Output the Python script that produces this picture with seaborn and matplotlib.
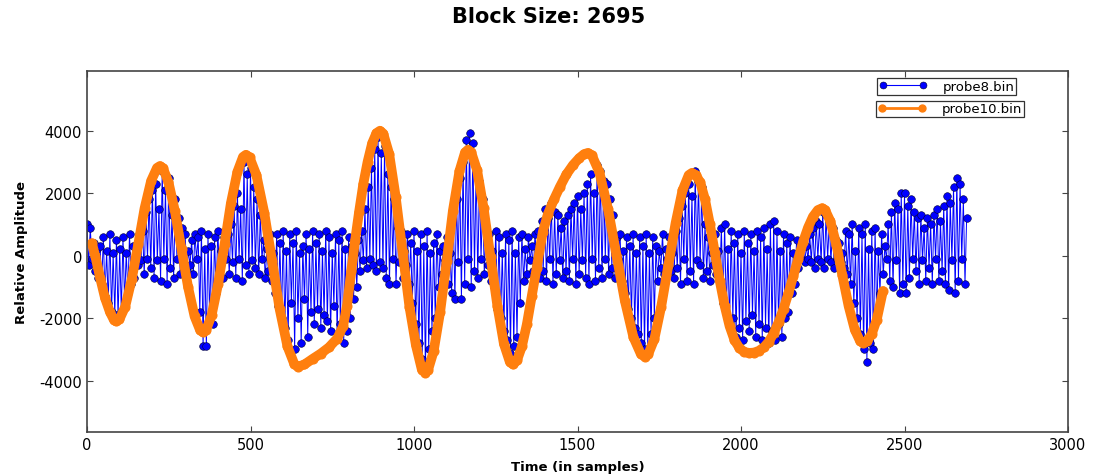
import numpy as np
import pandas as pd
import matplotlib
matplotlib.use("Agg")
import matplotlib.pyplot as plt
import seaborn as sns

block_size = 2695

# probe8.bin, one value read every 5 samples (0 .. 2690)
probe8_step = 5
probe8_vals = [
    1000, -300, 900, -100, 400, -500, 200, -700, 300, -900, 600, -1300, 150, -1500, 700, -1800, 100, -1900, 500, -2000,
    200, -1800, 600, -1500, 100, -1200, 700, -900, 300, -700, 150, -300, 700, -150, 800, -600, 1400, -100, 1800, -400,
    2100, -700, 2300, -150, 1500, -800, 2700, -100, 2100, -900, 2500, -400, 1300, -700, 1800, -100, 1200, -600, 900, -200,
    700, -500, 150, -300, 500, -600, 700, -100, 600, -1800, 800, -2900, 200, -2900, 700, -2000, 300, -2200, 600, -1200,
    800, -500, 150, -700, 600, -100, 700, -600, 1000, -200, 1600, -700, 2000, -100, 1500, -800, 3000, -300, 2600, -600,
    2800, -150, 2200, -400, 1800, -600, 1300, -100, 500, -700, 200, -500, 700, -800, 100, -1200, 700, -1600, 400, -2000,
    800, -2300, 150, -2700, 700, -1500, 400, -3000, 800, -2000, 100, -2800, 300, -1400, 700, -2600, 200, -1800, 800, -2200,
    400, -1700, 700, -2300, 150, -1900, 800, -2100, 600, -2400, 100, -1600, 700, -2600, 500, -2200, 800, -2800, 200, -2400,
    600, -2000, 300, -1400, 100, -1000, 500, -500, 800, -150, 1500, -400, 2200, -100, 2800, -300, 3400, -500, 3800, -200,
    3300, -400, 3500, -700, 2600, -900, 2200, -100, 1800, -900, 900, -200, 800, -700, 150, -300, 700, -900, 400, -1500,
    800, -2200, 150, -2800, 700, -3300, 300, -3760, 800, -3000, 100, -2400, 400, -2000, 700, -1000, 150, -600, 300, -150,
    600, -900, 100, -1200, 1500, -1400, 1800, -200, 2500, -1400, 3000, -900, 3700, -100, 3940, -1000, 3600, -500, 2800, -700,
    2400, -100, 1800, -600, 900, -300, 700, -800, 150, -1000, 800, -1700, 600, -2000, 100, -2400, 700, -2700, 500, -3100,
    800, -2900, 100, -2600, 600, -1500, 700, -800, 200, -600, 600, -150, 300, -500, 700, -100, 800, -700, 1100, -500,
    1500, -800, 1200, -100, 1700, -900, 1400, -600, 1300, -150, 900, -700, 1100, -500, 1300, -800, 1500, -100, 1700, -900,
    1900, -600, 1500, -150, 2000, -700, 2300, -900, 2600, -100, 2000, -800, 2900, -400, 2700, -700, 2400, -100, 2300, -600,
    1800, -400, 1300, -700, 600, -100, 700, -800, 150, -1200, 600, -1700, 300, -2000, 700, -2300, 100, -2500, 600, -2800,
    300, -3000, 700, -3100, 100, -2500, 600, -2000, 300, -800, 150, -400, 700, -600, 200, -100, 600, -500, 100, -700,
    800, -400, 1200, -900, 1600, -100, 2000, -800, 2300, -500, 1900, -900, 2700, -150, 2400, -300, 2200, -700, 1000, -500,
    600, -800, 100, -300, 700, -600, 150, -800, 900, -1500, 1000, -1800, 200, -2200, 800, -2000, 400, -2600, 700, -2300,
    100, -2700, 800, -2100, 400, -2400, 700, -1900, 150, -2600, 800, -2200, 600, -2700, 900, -2300, 200, -2800, 1000, -2400,
    1100, -2700, 800, -2200, 150, -2600, 700, -2000, 400, -1800, 600, -1200, 100, -900, 500, -400, 200, -100, 400, -200,
    300, -100, 700, -200, 900, -400, 1100, -100, 1000, -200, 1400, -400, 1300, -100, 1100, -200, 900, -400, 500, -100,
    400, -200, 100, -400, 800, -600, 700, -900, 1000, -1500, 150, -2000, 900, -2500, 700, -3000, 1000, -3400, 200, -2800,
    800, -3000, 900, -2000, 150, -1200, 700, -600, 300, -100, 1000, -800, 1400, -1000, 1700, -150, 1500, -1200, 2000, -900,
    2000, -1200, 1600, -700, 1800, -100, 1400, -500, 1200, -900, 1300, -150, 900, -800, 1200, -400, 1000, -900, 1300, -100,
    1500, -800, 1100, -500, 1600, -900, 1900, -1100, 1700, -150, 2200, -1200, 2500, -800, 2300, -100, 1800, -900, 1200,
]

# probe10.bin (sample index, value)
probe10_t = [
    15, 25, 40, 55, 70, 82, 90, 99, 117, 137, 157, 176, 196, 214,
    223, 232, 249, 269, 289, 309, 329, 346,
    355, 364, 381, 401, 421, 440, 460, 477,
    486, 497, 518, 542, 566, 589, 613, 634,
    645, 665, 690, 715, 740, 765, 783, 795, 808, 820, 832, 845, 858, 872, 885,
    896, 906, 924, 944, 965, 986, 1006, 1024,
    1034, 1043, 1060, 1080, 1100, 1119, 1139, 1156,
    1165, 1175, 1193, 1213, 1234, 1255, 1275, 1293,
    1303, 1315, 1330, 1345, 1360, 1375, 1394, 1410, 1428, 1446, 1466, 1486, 1505, 1520,
    1532, 1544, 1567, 1593, 1619, 1645, 1671, 1694,
    1706, 1716, 1735, 1756, 1778, 1800, 1821, 1840,
    1850, 1862, 1875, 1890, 1905, 1920, 1935, 1950, 1965, 1980, 1995, 2010, 2025,
    2040, 2055, 2070, 2085, 2100, 2115, 2130, 2145, 2160, 2175, 2190, 2205, 2220, 2235,
    2248, 2257, 2273, 2292, 2310, 2329, 2348, 2364,
    2373, 2385, 2400, 2415, 2434,
]
probe10_vals = [
    400, 0, -700, -1350, -1800, -2050, -2100, -2040, -1625, -743, 385, 1513, 2395, 2810,
    2870, 2806, 2362, 1418, 210, -998, -1942, -2386,
    -2450, -2382, -1908, -899, 390, 1679, 2688, 3162,
    3230, 3149, 2583, 1379, -160, -1699, -2903, -3469,
    -3550, -3480, -3300, -3130, -2930, -2650, -2260, -1600, -500, 500, 1400, 2300, 3000, 3600, 3920,
    4000, 3907, 3261, 1887, 130, -1627, -2871, -3647,
    -3740, -3654, -3059, -1794, -175, 1444, 2709, 3304,
    3390, 3308, 2734, 1514, -45, -1604, -2824, -3398,
    -3480, -3350, -2900, -2200, -1300, -400, 770, 1350, 1800, 2200, 2600, 2900, 3120, 3250,
    3290, 3212, 2667, 1510, 30, -1450, -2607, -3152,
    -3230, -3159, -2668, -1625, -290, 1045, 2088, 2579,
    2650, 2580, 2350, 1800, 1000, 100, -800, -1600, -2250, -2700, -2950, -3080, -3110,
    -3100, -3040, -2930, -2750, -2480, -2130, -1700, -1200, -650, -100, 450, 900, 1250, 1460,
    1520, 1468, 1109, 346, -630, -1606, -2369, -2728,
    -2780, -2740, -2500, -2050, -1130,
]

t8 = np.arange(len(probe8_vals)) * probe8_step
df8 = pd.DataFrame({"t": t8, "amp": probe8_vals})
df10 = pd.DataFrame({"t": probe10_t, "amp": probe10_vals})

sns.set_style("ticks")
plt.rcParams["font.family"] = ["DejaVu Sans"]
plt.rcParams["text.color"] = "black"
plt.rcParams["axes.labelcolor"] = "black"
plt.rcParams["xtick.color"] = "black"
plt.rcParams["ytick.color"] = "black"
plt.rcParams["axes.unicode_minus"] = False
plt.rcParams["xtick.direction"] = "in"
plt.rcParams["ytick.direction"] = "in"
plt.rcParams["xtick.top"] = True
plt.rcParams["ytick.right"] = True

fig = plt.figure(figsize=(10.98, 4.77), dpi=100)
ax = fig.add_axes([87 / 1098, 1 - 433 / 477, (1068 - 87) / 1098, (433 - 72) / 477])

sns.lineplot(data=df8, x="t", y="amp", ax=ax, sort=False, estimator=None,
             color="b", linewidth=0.7, marker="o", markersize=5.5,
             markeredgecolor="#000033", markeredgewidth=0.4, legend=False)
sns.lineplot(data=df10, x="t", y="amp", ax=ax, sort=False, estimator=None,
             color="#ff7f0e", linewidth=7, marker="o", markersize=6.5,
             markeredgecolor="#ff7f0e", solid_joinstyle="round",
             solid_capstyle="round", legend=False)

ax.set_xlim(0, 3000)
ax.set_ylim(1.5 * min(probe8_vals), 1.5 * max(probe8_vals))
ax.set_xticks(range(0, 3001, 500))
ax.set_yticks(range(-4000, 4001, 2000))
ax.tick_params(labelsize=10.5, length=4, width=0.8, color="#444444")
for s in ax.spines.values():
    s.set_color("#444444")
    s.set_linewidth(1.2)

ax.set_xlabel("Time (in samples)", fontsize=9.5, fontweight="bold", labelpad=6)
ax.set_ylabel("Relative Amplitude", fontsize=9.5, fontweight="bold", labelpad=8)
fig.suptitle(f"Block Size: {block_size}", fontsize=15, fontweight="bold", x=0.5, y=0.985, va="top")

# each probe has its own legend box
h8 = plt.Line2D([], [], color="b", lw=0.8, marker="o", markersize=5,
                markeredgecolor="#000033", markeredgewidth=0.4)
h10 = plt.Line2D([], [], color="#ff7f0e", lw=2, marker="o", markersize=5,
                 markeredgecolor="#ff7f0e")
common = dict(loc="upper left", bbox_transform=fig.transFigure, fontsize=9.5,
              frameon=True, fancybox=False, edgecolor="#333333", framealpha=1,
              borderpad=0.15, handlelength=3.6, handletextpad=1.2,
              borderaxespad=0, numpoints=2)
leg1 = ax.legend([h8], ["probe8.bin"], bbox_to_anchor=(877 / 1098, 1 - 79 / 477), **common)
leg1.get_frame().set_linewidth(0.9)
ax.add_artist(leg1)
leg2 = ax.legend([h10], ["probe10.bin"], bbox_to_anchor=(876 / 1098, 1 - 101.5 / 477), **common)
leg2.get_frame().set_linewidth(0.9)

fig.savefig("out.png", dpi=100)
